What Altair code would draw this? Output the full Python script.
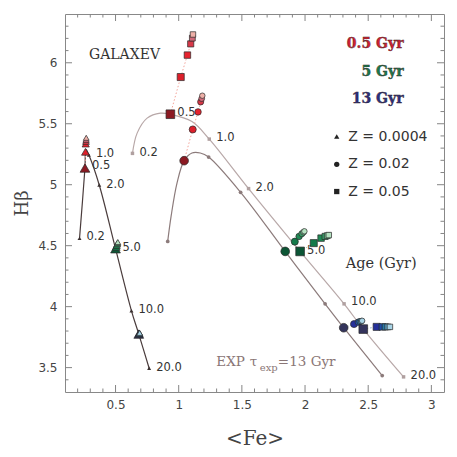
import altair as alt
import pandas as pd
import numpy as np

W, H = 379, 378
XD = [0.1, 3.1]
YD = [3.3, 6.4]

# ---- model tracks (EXP tau=13 Gyr) ----
tri_track_x = [0.215, 0.258, 0.266, 0.289, 0.371, 0.500, 0.626, 0.684, 0.766]
tri_track_y = [4.560, 5.137, 5.290, 5.243, 4.998, 4.475, 3.966, 3.775, 3.495]
cir_track_x = [0.913, 0.940, 0.987, 1.043, 1.105, 1.171, 1.237, 1.490, 1.843, 2.159, 2.306, 2.611]
cir_track_y = [4.535, 4.742, 5.015, 5.197, 5.260, 5.260, 5.227, 4.938, 4.453, 4.023, 3.827, 3.435]
sq_track_x = [0.634, 0.671, 0.750, 0.855, 0.934, 1.105, 1.242, 1.553, 1.961, 2.309, 2.461, 2.780]
sq_track_y = [5.257, 5.423, 5.546, 5.587, 5.578, 5.518, 5.374, 4.968, 4.453, 4.023, 3.816, 3.424]

# small age markers on the tracks (0.2, 1, 2, 10, 20 Gyr)
tri_age_x = [0.215, 0.289, 0.371, 0.626, 0.766]
tri_age_y = [4.560, 5.243, 4.998, 3.966, 3.495]
cir_age_x = [0.913, 1.237, 1.490, 2.159, 2.611]
cir_age_y = [4.535, 5.227, 4.938, 4.023, 3.435]
sq_age_x = [0.634, 1.242, 1.553, 2.309, 2.780]
sq_age_y = [5.257, 5.374, 4.968, 4.023, 3.424]

# age labels
age_text = ["0.2", "0.5", "1.0", "2.0", "5.0", "10.0", "20.0"]
tri_lab_x = [0.215, 0.258, 0.289, 0.371, 0.500, 0.626, 0.766]
tri_lab_y = [4.570, 5.150, 5.255, 5.000, 4.478, 3.975, 3.500]
sq_lab_x = [0.634, 0.934, 1.242, 1.553, 1.961, 2.309, 2.780]
sq_lab_y = [5.260, 5.590, 5.380, 4.972, 4.460, 4.035, 3.430]

# ---- model variants at fixed ages (0.5, 5, 13 Gyr) ----
red_tri_x = [0.258, 0.262, 0.264, 0.266, 0.267, 0.268]
red_tri_y = [5.137, 5.270, 5.335, 5.355, 5.370, 5.385]
red_cir_x = [1.043, 1.111, 1.153, 1.174, 1.182, 1.187]
red_cir_y = [5.197, 5.453, 5.597, 5.679, 5.706, 5.730]
red_sq_x = [0.934, 1.016, 1.069, 1.095, 1.108, 1.113]
red_sq_y = [5.578, 5.883, 6.063, 6.155, 6.202, 6.232]

grn_tri_x = [0.500, 0.505, 0.509, 0.513, 0.516, 0.518]
grn_tri_y = [4.475, 4.490, 4.503, 4.515, 4.523, 4.530]
grn_cir_x = [1.843, 1.919, 1.953, 1.975, 1.988, 1.995]
grn_cir_y = [4.453, 4.533, 4.576, 4.598, 4.611, 4.618]
grn_sq_x = [1.961, 2.069, 2.127, 2.159, 2.176, 2.188]
grn_sq_y = [4.453, 4.521, 4.562, 4.576, 4.582, 4.587]

blu_tri_x = [0.684, 0.686, 0.688, 0.689, 0.690, 0.691]
blu_tri_y = [3.775, 3.778, 3.780, 3.782, 3.783, 3.785]
blu_cir_x = [2.306, 2.388, 2.422, 2.435, 2.445, 2.452]
blu_cir_y = [3.827, 3.857, 3.873, 3.878, 3.881, 3.884]
blu_sq_x = [2.461, 2.567, 2.612, 2.635, 2.655, 2.672]
blu_sq_y = [3.816, 3.834, 3.834, 3.834, 3.834, 3.834]

red_pal = ["#8b1a22", "#dc1f2a", "#e6232e", "#d83848", "#d06878", "#eeb0a8"]
grn_pal = ["#0c5535", "#137a4a", "#1f8a55", "#3a9e68", "#7cc496", "#b4e2c0"]
blu_pal = ["#34345c", "#25309a", "#1f4ea6", "#2878a6", "#5fa2c4", "#a8d4e6"]
var_sizes = [75, 50, 42, 38, 34, 30]
tri_sizes = [95, 62, 52, 46, 40, 34]

x_labels = [0.5, 1, 1.5, 2, 2.5, 3]
y_labels = [3.5, 4, 4.5, 5, 5.5, 6]

xs = alt.Scale(domain=XD, nice=False, zero=False)
ys = alt.Scale(domain=YD, nice=False, zero=False)

x_axis = alt.Axis(
    values=x_labels, format="~g", ticks=False, domain=False, grid=False,
    labelPadding=7, labelFont="DejaVu Sans", labelFontSize=12, labelColor="#444",
    title="<Fe>", titleFont="DejaVu Serif", titleFontSize=20, titleFontWeight="normal",
    titleColor="#444", titlePadding=18)
y_axis = alt.Axis(
    values=y_labels, format="~g", ticks=False, domain=False, grid=False,
    labelPadding=8, labelFont="DejaVu Sans", labelFontSize=12, labelColor="#444",
    title="Hβ", titleFont="DejaVu Serif", titleFontSize=18, titleFontWeight="normal",
    titleColor="#444", titlePadding=6)


def X(f="x"):
    return alt.X(f + ":Q", scale=xs, axis=x_axis, title="<Fe>")


def Y(f="y"):
    return alt.Y(f + ":Q", scale=ys, axis=y_axis, title="Hβ")


# tracks table
rows = []
for tid, (xx, yy, col) in enumerate([(tri_track_x, tri_track_y, "#4a3c3c"),
                                     (cir_track_x, cir_track_y, "#8c7b7b"),
                                     (sq_track_x, sq_track_y, "#b8a8a8")]):
    for i, (a, b) in enumerate(zip(xx, yy)):
        rows.append(dict(t=tid, o=i, x=a, y=b, c=col))
tracks = pd.DataFrame(rows)

track_line = alt.Chart(tracks).mark_line(interpolate="catmull-rom", strokeWidth=1.2).encode(
    x=X(), y=Y(),
    color=alt.Color("c:N", scale=None),
    detail="t:N",
    order="o:Q",
)

rows = []
for xx, yy, shp, col, sz in [(tri_age_x, tri_age_y, "triangle-up", "#3a3030", 16),
                             (cir_age_x, cir_age_y, "circle", "#8c7b7b", 14),
                             (sq_age_x, sq_age_y, "square", "#b0a0a0", 12)]:
    for a, b in zip(xx, yy):
        rows.append(dict(x=a, y=b, s=shp, c=col, z=sz))
age_pts = pd.DataFrame(rows)
age_marks = alt.Chart(age_pts).mark_point(filled=True, opacity=1, strokeWidth=0).encode(
    x=X(), y=Y(), shape=alt.Shape("s:N", scale=None), color=alt.Color("c:N", scale=None),
    size=alt.Size("z:Q", scale=None))

labs = pd.DataFrame(dict(x=tri_lab_x + sq_lab_x, y=tri_lab_y + sq_lab_y, t=age_text + age_text))
age_labels = alt.Chart(labs).mark_text(align="left", baseline="middle", dx=7, font="DejaVu Sans",
                                       fontSize=11.5, color="#333").encode(x=X(), y=Y(), text="t:N")

# variants
rows = []
groups = [
    (red_tri_x, red_tri_y, "triangle-up", red_pal, tri_sizes, "#f4a49a"),
    (red_cir_x, red_cir_y, "circle", red_pal, var_sizes, "#f4a49a"),
    (red_sq_x, red_sq_y, "square", red_pal, var_sizes, "#f4a49a"),
    (grn_tri_x, grn_tri_y, "triangle-up", grn_pal, tri_sizes, "#a8d0b0"),
    (grn_cir_x, grn_cir_y, "circle", grn_pal, var_sizes, "#a8d0b0"),
    (grn_sq_x, grn_sq_y, "square", grn_pal, var_sizes, "#a8d0b0"),
    (blu_tri_x, blu_tri_y, "triangle-up", blu_pal, tri_sizes, "#90a8c8"),
    (blu_cir_x, blu_cir_y, "circle", blu_pal, var_sizes, "#90a8c8"),
    (blu_sq_x, blu_sq_y, "square", blu_pal, var_sizes, "#90a8c8"),
]
for g, (xx, yy, shp, pal, sizes, dc) in enumerate(groups):
    for i, (a, b) in enumerate(zip(xx, yy)):
        rows.append(dict(g=g, o=i, x=a, y=b, s=shp, c=pal[i], z=sizes[i], d=dc))
var = pd.DataFrame(rows)

dotted = alt.Chart(var).mark_line(strokeDash=[1.5, 2], strokeWidth=1).encode(
    x=X(), y=Y(), detail="g:N", order="o:Q", color=alt.Color("d:N", scale=None))
var_marks = alt.Chart(var).mark_point(filled=True, opacity=1, stroke="#2a2a2a", strokeWidth=0.7).encode(
    x=X(), y=Y(), shape=alt.Shape("s:N", scale=None), fill=alt.Fill("c:N", scale=None),
    size=alt.Size("z:Q", scale=None))

# frame ticks (inward)
x_major = [0.5, 1.0, 1.5, 2.0, 2.5, 3.0]
x_minor = [round(v, 1) for v in np.arange(0.2, 3.05, 0.1) if round(v * 10) % 5 != 0]
y_major = [3.5, 4.0, 4.5, 5.0, 5.5, 6.0]
y_minor = [round(v, 1) for v in np.arange(3.4, 6.35, 0.1) if round(v * 10) % 5 != 0]
TK = "#858585"
tick_layers = []
for vals, ln in [(x_major, 7), (x_minor, 3.5)]:
    d = pd.DataFrame(dict(x=vals))
    tick_layers.append(alt.Chart(d).mark_rule(color=TK).encode(x=X(), y=alt.value(H), y2=alt.value(H - ln)))
    tick_layers.append(alt.Chart(d).mark_rule(color=TK).encode(x=X(), y=alt.value(0), y2=alt.value(ln)))
for vals, ln in [(y_major, 7), (y_minor, 3.5)]:
    d = pd.DataFrame(dict(y=vals))
    tick_layers.append(alt.Chart(d).mark_rule(color=TK).encode(y=Y(), x=alt.value(0), x2=alt.value(ln)))
    tick_layers.append(alt.Chart(d).mark_rule(color=TK).encode(y=Y(), x=alt.value(W), x2=alt.value(W - ln)))

# annotations
galaxev = alt.Chart(pd.DataFrame(dict(x=[0.571], y=[6.063], t=["GALAXEV"]))).mark_text(
    font="DejaVu Serif", fontSize=14, color="#333", baseline="middle").encode(x=X(), y=Y(), text="t:N")

age_title_txt = ["0.5 Gyr", "5 Gyr", "13 Gyr"]
age_title_y = [6.153, 5.924, 5.703]
age_title_col = ["#d42030", "#1a7a4a", "#2a2f80"]
age_titles = alt.Chart(pd.DataFrame(dict(x=[2.78] * 3, y=age_title_y, t=age_title_txt, c=age_title_col))).mark_text(
    font="DejaVu Serif", fontSize=14, fontWeight="bold", align="right", baseline="middle",
    stroke="#3a2a2a", strokeWidth=0.4).encode(x=X(), y=Y(), text="t:N", fill=alt.Fill("c:N", scale=None))

leg_y = [5.395, 5.167, 4.944]
leg_shapes = ["triangle-up", "circle", "square"]
leg_txt = ["Z = 0.0004", "Z = 0.02", "Z = 0.05"]
leg_df = pd.DataFrame(dict(x=[2.251] * 3, xt=[2.342] * 3, y=leg_y, s=leg_shapes, t=leg_txt))
leg_marks = alt.Chart(leg_df).mark_point(filled=True, opacity=1, color="#222", size=28).encode(
    x=X(), y=Y(), shape=alt.Shape("s:N", scale=None))
leg_text = alt.Chart(leg_df).mark_text(font="DejaVu Sans", fontSize=14, color="#333", align="left",
                                       baseline="middle").encode(x=X("xt"), y=Y(), text="t:N")

age_axis_lab = alt.Chart(pd.DataFrame(dict(x=[2.322], y=[4.347], t=["Age (Gyr)"]))).mark_text(
    font="DejaVu Serif", fontSize=14.5, color="#333", align="left", baseline="middle").encode(
    x=X(), y=Y(), text="t:N")

exp_col = "#8a7676"
exp_main = alt.Chart(pd.DataFrame(dict(x=[1.298, 1.562, 1.785], y=[3.547, 3.547, 3.547],
                                       t=["EXP", "τ", "=13 Gyr"]))).mark_text(
    font="DejaVu Serif", fontSize=13.5, color=exp_col, align="left", baseline="middle").encode(
    x=X(), y=Y(), text="t:N")
exp_sub = alt.Chart(pd.DataFrame(dict(x=[1.642], y=[3.50], t=["exp"]))).mark_text(
    font="DejaVu Serif", fontSize=10, color=exp_col, align="left", baseline="middle").encode(
    x=X(), y=Y(), text="t:N")

chart = alt.layer(
    track_line, *tick_layers, age_marks, age_labels, dotted, var_marks,
    galaxev, age_titles, leg_marks, leg_text, age_axis_lab, exp_main, exp_sub
).properties(
    width=W, height=H,
    padding={"left": 57, "top": 6, "right": 5, "bottom": 60},
    autosize=alt.AutoSizeParams(type="none"),
    background="white",
).configure_view(stroke="#888", strokeWidth=1)

chart.save("out.html", embed_options={"renderer": "svg", "actions": False})
